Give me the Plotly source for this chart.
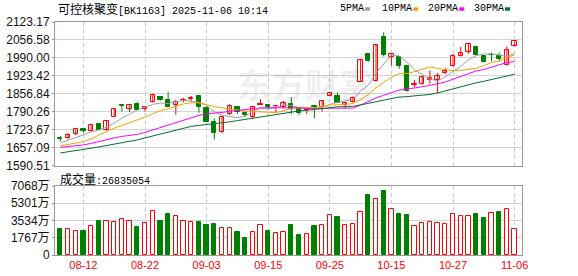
import plotly.graph_objects as go

# ---------------- data ----------------
dates = ["08-07", "08-08", "08-11", "08-12", "08-13", "08-14", "08-15", "08-18", "08-19", "08-20",
         "08-21", "08-22", "08-25", "08-26", "08-27", "08-28", "08-29", "09-01", "09-02", "09-03",
         "09-04", "09-05", "09-08", "09-09", "09-10", "09-11", "09-12", "09-15", "09-16", "09-17",
         "09-18", "09-19", "09-22", "09-23", "09-24", "09-25", "09-26", "09-29", "09-30", "10-09",
         "10-10", "10-13", "10-14", "10-15", "10-16", "10-17", "10-20", "10-21", "10-22", "10-23",
         "10-24", "10-27", "10-28", "10-29", "10-30", "10-31", "11-03", "11-04", "11-05", "11-06"]

opens = [1692.7, 1694.9, 1707.5, 1726.0, 1720.9, 1744.6, 1722.4, 1771.7, 1816.2, 1802.5,
         1821.1, 1800.3, 1826.3, 1844.8, 1834.8, 1816.2, 1832.9, 1839.6, 1849.6, 1803.3,
         1753.2, 1717.2, 1782.8, 1809.9, 1785.4, 1772.8, 1816.2, 1816.2, 1811.4, 1809.9,
         1820.0, 1804.0, 1797.7, 1812.5, 1808.8, 1849.6, 1849.6, 1816.2, 1825.5, 1902.7,
         2005.5, 1903.5, 2068.6, 1991.8, 1991.8, 1958.4, 1890.5, 1893.1, 1909.0, 1909.0,
         1933.9, 1961.0, 1998.1, 2010.3, 2030.4, 1998.1, 2001.8, 1995.5, 1964.7, 2032.6]
highs = [1701.2, 1711.2, 1730.9, 1727.2, 1742.0, 1745.8, 1756.9, 1801.4, 1820.0, 1816.2,
         1826.3, 1812.5, 1858.2, 1844.8, 1864.5, 1834.8, 1842.2, 1849.6, 1851.5, 1809.9,
         1766.1, 1773.6, 1818.8, 1810.7, 1791.4, 1812.5, 1837.4, 1816.2, 1816.2, 1831.1,
         1844.8, 1807.7, 1807.7, 1816.2, 1832.9, 1864.5, 1861.9, 1824.8, 1847.0, 1983.2,
         2008.1, 2042.6, 2084.6, 2008.1, 1995.5, 1961.0, 1909.0, 1921.3, 1943.5, 1933.9,
         1952.4, 2004.4, 2030.4, 2042.6, 2035.2, 1998.1, 2010.3, 2010.3, 2032.6, 2051.9]
lows = [1681.5, 1689.0, 1704.9, 1711.2, 1719.8, 1722.4, 1720.9, 1770.6, 1791.4, 1789.2,
        1796.6, 1791.4, 1824.8, 1832.2, 1809.9, 1779.1, 1826.3, 1828.5, 1786.6, 1753.2,
        1688.2, 1710.5, 1779.1, 1782.8, 1772.8, 1764.3, 1816.2, 1797.7, 1787.7, 1804.0,
        1781.7, 1779.1, 1782.8, 1766.9, 1791.4, 1847.8, 1822.5, 1804.0, 1824.8, 1901.6,
        1975.8, 1901.6, 1995.5, 1962.1, 1949.8, 1865.6, 1881.9, 1890.5, 1894.2, 1859.7,
        1930.2, 1958.4, 1995.5, 2005.5, 1999.2, 1973.2, 1976.9, 1976.9, 1962.1, 2032.6]
closes = [1690.1, 1703.8, 1727.2, 1719.8, 1740.9, 1723.5, 1755.8, 1800.3, 1813.6, 1815.1,
          1798.8, 1809.9, 1853.4, 1835.9, 1809.9, 1828.5, 1835.9, 1842.2, 1808.8, 1754.3,
          1712.3, 1771.7, 1812.5, 1791.4, 1779.1, 1809.9, 1821.1, 1807.7, 1813.6, 1824.8,
          1800.3, 1787.7, 1804.0, 1807.7, 1831.1, 1860.8, 1824.8, 1823.7, 1841.1, 1981.4,
          1978.4, 2038.9, 2001.8, 2004.4, 1961.0, 1869.3, 1893.1, 1919.0, 1917.6, 1925.0,
          1943.5, 1998.1, 2008.1, 2041.5, 2001.8, 1974.7, 1999.2, 1985.8, 2017.8, 2051.2]

ma5 = [1675.3, 1684.5, 1693.8, 1704.9, 1716.5, 1723.1, 1733.5, 1748.0, 1766.9, 1781.8,
       1796.6, 1807.7, 1818.1, 1822.6, 1821.5, 1827.4, 1832.6, 1830.4, 1825.2, 1814.1,
       1790.7, 1778.1, 1772.1, 1768.4, 1773.6, 1792.9, 1802.9, 1801.8, 1806.3, 1815.5,
       1813.7, 1807.0, 1806.3, 1804.8, 1806.3, 1818.1, 1825.6, 1829.6, 1836.3, 1866.4,
       1889.8, 1932.8, 1968.4, 2001.1, 1997.0, 1975.1, 1945.8, 1929.5, 1912.0, 1905.0,
       1919.8, 1940.6, 1958.4, 1983.3, 1998.5, 2004.8, 2005.2, 2000.7, 1995.9, 2005.9]
ma10 = [1664.1, 1669.0, 1674.1, 1680.1, 1690.1, 1704.9, 1717.9, 1729.8, 1739.5, 1749.1,
        1759.9, 1770.6, 1783.3, 1794.8, 1801.8, 1812.2, 1820.0, 1824.4, 1823.7, 1817.8,
        1809.2, 1805.1, 1801.1, 1796.6, 1793.6, 1791.8, 1790.3, 1787.0, 1787.3, 1794.4,
        1803.3, 1804.8, 1804.0, 1805.5, 1810.7, 1815.9, 1816.3, 1817.8, 1820.7, 1836.3,
        1854.1, 1879.4, 1899.0, 1918.7, 1931.7, 1932.4, 1939.5, 1948.8, 1956.6, 1951.0,
        1947.3, 1943.2, 1943.9, 1947.6, 1951.7, 1962.1, 1972.9, 1979.6, 1989.6, 2002.2]
ma20 = [1658.6, 1661.5, 1664.9, 1667.8, 1673.4, 1680.8, 1688.3, 1693.8, 1699.4, 1703.1,
        1706.8, 1714.2, 1723.5, 1732.8, 1742.1, 1751.3, 1760.6, 1769.9, 1777.3, 1783.3,
        1784.4, 1788.1, 1792.2, 1795.9, 1797.7, 1802.2, 1805.1, 1805.5, 1805.5, 1806.3,
        1806.3, 1805.1, 1802.5, 1801.1, 1802.2, 1804.0, 1803.3, 1802.5, 1804.0, 1815.5,
        1828.5, 1841.9, 1851.5, 1862.3, 1871.2, 1874.2, 1877.9, 1883.4, 1888.6, 1893.5,
        1900.9, 1911.3, 1921.3, 1933.2, 1941.7, 1947.3, 1956.2, 1964.3, 1972.9, 1976.6]
ma30 = [1638.1, 1641.8, 1646.3, 1650.0, 1655.6, 1660.4, 1665.2, 1669.7, 1675.2, 1680.8,
        1686.4, 1693.8, 1701.2, 1708.6, 1716.0, 1723.5, 1730.9, 1736.5, 1740.2, 1742.8,
        1745.7, 1749.4, 1753.2, 1758.0, 1762.4, 1768.0, 1771.7, 1776.5, 1781.5, 1787.0,
        1790.7, 1793.6, 1796.2, 1799.2, 1802.2, 1806.6, 1808.9, 1809.6, 1810.7, 1816.2,
        1822.2, 1829.6, 1834.8, 1840.4, 1845.2, 1846.7, 1848.6, 1851.2, 1854.9, 1860.4,
        1868.2, 1875.7, 1882.3, 1890.5, 1897.9, 1903.5, 1909.4, 1915.4, 1922.4, 1929.8]

# volume in units of 万 (10k shares)
volume_wan = [2695, 2665, 2461, 2492, 2970, 3509, 3478, 3376, 3681, 3478,
              2898, 3275, 4495, 3509, 4221, 3987, 3478, 3376, 3407, 3102,
              3204, 2766, 2766, 2390, 1780, 2390, 3071, 2492, 2288, 2390,
              3102, 2085, 2187, 3000, 3071, 4119, 3885, 3071, 3204, 4393,
              6153, 5715, 6560, 4698, 4221, 4119, 2970, 3275, 3376, 3275,
              3173, 4190, 3987, 3987, 4221, 3814, 4292, 4424, 4698, 2684]
# 1 = up (red), -1 = down (green) as coloured in the volume panel
volume_dir = [-1, 1, 1, -1, 1, -1, 1, 1, 1, 1,
              -1, 1, 1, -1, -1, 1, 1, 1, -1, -1,
              -1, 1, 1, -1, -1, 1, 1, -1, 1, 1,
              -1, -1, 1, -1, 1, 1, -1, 1, 1, 1,
              -1, 1, -1, 1, -1, -1, 1, 1, 1, 1,
              1, 1, 1, 1, -1, -1, 1, -1, 1, 1]

price_ticks = [1590.51, 1657.09, 1723.67, 1790.26, 1856.84, 1923.42, 1990.00, 2056.58, 2123.17]
volume_ticks = [0, 1767, 3534, 5301, 7068]
volume_tick_labels = ["0", "1767万", "3534万", "5301万", "7068万"]
date_ticks = ["08-12", "08-22", "09-03", "09-15", "09-25", "10-15", "10-27", "11-06"]

board_name = "可控核聚变"
board_code = "BK1163"
quote_time = "2025-11-06 10:14"
total_volume = 26835054
ma_names = ["5PMA", "10PMA", "20PMA", "30PMA"]

# ---------------- style ----------------
RED = "#ff0000"
GREEN = "#008000"
MA_COLORS = ["#a0a0a0", "#f4a000", "#ff00ff", "#006f32"]
W, H = 578, 276
L, R, T, B = 55, 56, 22, 21
PW, PH = W - L - R, H - T - B


def px_x(p):
    return (p - L) / PW


def px_y(p):
    return (H - B - p) / PH


idx = list(range(len(dates)))
up = [i for i in idx if closes[i] >= opens[i]]
dn = [i for i in idx if closes[i] < opens[i]]

fig = go.Figure()


def wick_trace(ids, color):
    xs, ys = [], []
    for i in ids:
        xs += [i, i, None]
        ys += [lows[i], highs[i], None]
    return go.Scatter(x=xs, y=ys, mode="lines", line=dict(color=color, width=1),
                      hoverinfo="skip", showlegend=False, xaxis="x", yaxis="y")


fig.add_trace(wick_trace(up, RED))
fig.add_trace(wick_trace(dn, GREEN))

BODY_W = 0.56
fig.add_trace(go.Bar(x=up, y=[closes[i] - opens[i] for i in up], base=[opens[i] for i in up],
                     width=BODY_W, marker=dict(color="white", line=dict(color=RED, width=1)),
                     showlegend=False, xaxis="x", yaxis="y"))
fig.add_trace(go.Bar(x=dn, y=[opens[i] - closes[i] for i in dn], base=[closes[i] for i in dn],
                     width=BODY_W, marker=dict(color=GREEN, line=dict(color=GREEN, width=1)),
                     showlegend=False, xaxis="x", yaxis="y"))

for name, series, col in zip(ma_names, [ma5, ma10, ma20, ma30], MA_COLORS):
    fig.add_trace(go.Scatter(x=idx, y=series, mode="lines", name=name,
                             line=dict(color=col, width=1), showlegend=False,
                             xaxis="x", yaxis="y"))

vu = [i for i in idx if volume_dir[i] > 0]
vd = [i for i in idx if volume_dir[i] < 0]
fig.add_trace(go.Bar(x=vu, y=[volume_wan[i] for i in vu], width=BODY_W,
                     marker=dict(color="white", line=dict(color=RED, width=1)),
                     showlegend=False, xaxis="x2", yaxis="y2"))
fig.add_trace(go.Bar(x=vd, y=[volume_wan[i] for i in vd], width=BODY_W,
                     marker=dict(color=GREEN, line=dict(color=GREEN, width=1)),
                     showlegend=False, xaxis="x2", yaxis="y2"))

tick_idx = [dates.index(d) for d in date_ticks]
xr = [-0.69, len(dates) - 1 + 0.96]
grid_h = "#d4d4d4"
grid_v = "#cccccc"
frame = "#999999"
tick_font = dict(family="Liberation Sans, Noto Sans CJK SC", size=12, color="#111111")

common_x = dict(range=xr, tickvals=tick_idx, ticktext=date_ticks, showgrid=True,
                gridcolor=grid_v, griddash="4px,3px", gridwidth=1, zeroline=False,
                showline=True, mirror=True, linecolor=frame, linewidth=1, ticks="",
                automargin=False)

fig.update_layout(
    width=W, height=H, margin=dict(l=L, r=R, t=T, b=B, autoexpand=False),
    paper_bgcolor="white", plot_bgcolor="white", barmode="overlay", bargap=0,
    showlegend=False,
    xaxis=dict(domain=[0, 1], anchor="y", showticklabels=False, **common_x),
    xaxis2=dict(domain=[0, 1], anchor="y2", matches="x", showticklabels=True,
                tickfont=dict(family="Liberation Sans", size=11, color=RED), **common_x),
    yaxis=dict(domain=[px_y(165.8), 1], range=[price_ticks[0], price_ticks[-1]],
               tickvals=price_ticks, ticktext=["%.2f" % v for v in price_ticks],
               showgrid=True, gridcolor=grid_h, gridwidth=1, zeroline=False,
               showline=True, mirror=True, linecolor=frame, linewidth=1, automargin=False,
               ticks="outside", ticklen=2, tickcolor=frame, tickfont=tick_font),
    yaxis2=dict(domain=[0, px_y(186)], range=[0, volume_ticks[-1]],
                tickvals=volume_ticks, ticktext=volume_tick_labels,
                showgrid=True, gridcolor=grid_h, gridwidth=1, zeroline=False,
                showline=True, mirror=True, linecolor=frame, linewidth=1, automargin=False,
                ticks="outside", ticklen=2, tickcolor=frame, tickfont=tick_font),
)

ann = []
mono = "font-family:Liberation Mono;font-size:10px"
ann.append(dict(text=f'{board_name}<span style="{mono}">[{board_code}] {quote_time}</span>',
                x=px_x(56), y=px_y(9), xref="paper", yref="paper", xanchor="left",
                yanchor="middle", showarrow=False,
                font=dict(family="Noto Sans CJK SC", size=12, color="#000000")))
ann.append(dict(text=f'成交量<span style="{mono}">:{total_volume}</span>',
                x=px_x(57.5), y=px_y(178), xref="paper", yref="paper", xanchor="left",
                yanchor="middle", showarrow=False,
                font=dict(family="Noto Sans CJK SC", size=12, color="#000000")))
legend_x = [338.3, 380, 426, 471.7]
square_x = [365, 413.3, 459.3, 505]
shapes = []
for name, col, lx, sx in zip(ma_names, MA_COLORS, legend_x, square_x):
    ann.append(dict(text=name, x=px_x(lx), y=px_y(9), xref="paper", yref="paper",
                    xanchor="left", yanchor="middle", showarrow=False,
                    font=dict(family="Liberation Mono", size=10, color="#000000")))
    shapes.append(dict(type="rect", xref="paper", yref="paper", x0=px_x(sx), x1=px_x(sx + 5),
                       y0=px_y(10.7), y1=px_y(7.3), fillcolor=col, line=dict(width=0)))
ann.append(dict(text="东方财富", x=px_x(305), y=px_y(83), xref="paper", yref="paper",
                xanchor="center", yanchor="middle", showarrow=False,
                font=dict(family="Noto Sans CJK SC", size=34, color="rgba(0,0,0,0.07)",
                          weight="bold")))
fig.update_layout(annotations=ann, shapes=shapes)

fig.write_html("out.html")
